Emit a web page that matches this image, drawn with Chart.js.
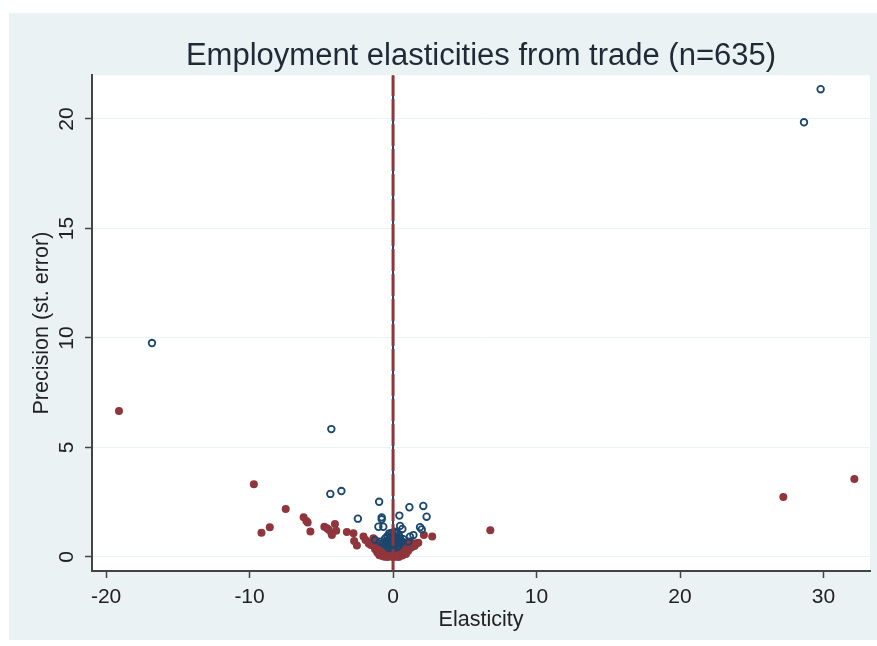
<!DOCTYPE html>
<html lang="en">
<head>
<meta charset="UTF-8">
<title>Employment elasticities from trade</title>
<script src="https://cdn.jsdelivr.net/npm/chart.js"></script>
<style>
  html, body { margin: 0; padding: 0; background: #ffffff; }
  #wrap { width: 877px; height: 646px; }
</style>
</head>
<body>
<div id="wrap"><canvas id="funnelChart" width="877" height="646"></canvas></div>
<script>
// axis ticks and limits
const xTicks = [-20, -10, 0, 10, 20, 30];
const yTicks = [0, 5, 10, 15, 20];
const xLimits = [-20.98, 33.24];
const yLimits = [-0.64, 22.0];

// filled maroon markers (elasticity, precision)
const redX = [-19.1, -9.7, -9.17, -8.59, -7.48, -6.23, -6.04, -5.95, -5.76, -4.79, -4.6, -4.48, -4.3, -4.05, -3.96, -4.26,
  -3.22, -2.76, -2.71, -2.52, -2.06, -1.92, -1.37, -1.23, 2.15, 2.73, 1.53, 1.76, 6.78, 27.2, 32.15,
  -1.45, -1.30, -1.10, -0.90, -0.70, 0.70, 0.95, 1.20, 1.40,
  -1.35, -1.15, -0.95, -0.75, -0.55, 0.55, 0.80, 1.05, 1.25,
  -1.25, -1.05, -0.85, -0.65, -0.45, -0.25, 0.25, 0.45, 0.65, 0.85, 1.05,
  -1.10, -0.90, -0.70, -0.50, -0.30, -0.10, 0.10, 0.30, 0.50, 0.70, 0.90,
  -0.95, -0.75, -0.55, -0.35, -0.15, 0.05, 0.25, 0.45, 0.65,
  -0.60, -0.40, -0.20, 0.00, 0.20, 0.40,
  -0.40, -0.20, 0.20, 0.35, -1.55, 1.50, -1.70, 1.65];
const redY = [6.67, 3.32, 1.11, 1.36, 2.19, 1.81, 1.64, 1.58, 1.16, 1.38, 1.31, 1.24, 1.10, 1.51, 1.20, 1.00,
  1.14, 1.08, 0.73, 0.52, 0.93, 0.78, 0.85, 0.62, 1.00, 0.93, 0.62, 0.65, 1.22, 2.74, 3.56,
  0.70, 0.62, 0.66, 0.60, 0.64, 0.66, 0.62, 0.70, 0.58,
  0.50, 0.45, 0.50, 0.42, 0.48, 0.45, 0.50, 0.46, 0.42,
  0.35, 0.30, 0.33, 0.28, 0.35, 0.30, 0.32, 0.28, 0.34, 0.30, 0.27,
  0.20, 0.16, 0.20, 0.14, 0.18, 0.22, 0.16, 0.20, 0.15, 0.19, 0.14,
  0.08, 0.05, 0.09, 0.04, 0.07, 0.03, 0.08, 0.05, 0.07,
  0.01, 0.00, 0.02, 0.00, 0.01, 0.00,
  0.55, 0.45, 0.50, 0.58, 0.55, 0.50, 0.62, 0.62];

// hollow navy markers (elasticity, precision)
const blueX = [-16.8, -4.3, -4.37, -3.6, -0.97, -2.45, -0.79, -0.79, 0.44, 1.14, 2.11, 2.34, -1.02, -0.68, 0.49, 0.65,
  1.88, 2.0, 1.42, 1.18, 0.42, -0.26, -1.25, -0.91, -0.68, 1.07, 0.72, 0.26, 28.64, 29.8,
  -0.5, -0.35, -0.2, 0.0, 0.2, 0.4, 0.55,
  -0.45, -0.25, -0.05, 0.15, 0.35, 0.5,
  -0.4, -0.2, 0.0, 0.2, 0.4,
  -0.1, 0.1, -0.3, 0.3, 0.0, -0.15, 0.25, -0.55, 0.6, 0.0, -0.3, 0.3];
const blueY = [9.77, 5.84, 2.88, 3.01, 2.52, 1.75, 1.81, 1.72, 1.89, 2.27, 2.33, 1.84, 1.38, 1.38, 1.42, 1.28,
  1.36, 1.26, 1.0, 0.93, 0.97, 1.08, 0.78, 0.70, 0.63, 0.70, 0.81, 1.11, 19.85, 21.36,
  0.55, 0.62, 0.50, 0.55, 0.60, 0.52, 0.65,
  0.75, 0.80, 0.72, 0.78, 0.74, 0.82,
  0.95, 0.90, 0.98, 0.92, 0.96,
  1.10, 1.15, 0.68, 0.66, 0.85, 1.02, 1.05, 0.85, 0.72, 0.40, 0.42, 0.45];

const sans = "'Liberation Sans', Arial, sans-serif";
const tickFontSize = 21;

const toPoints = (xs, ys) => xs.map((x, i) => ({ x: x, y: ys[i] }));

// stata-like frame: outer panel + white plot region
const panelBackground = {
  id: 'panelBackground',
  beforeDraw(chart) {
    const ctx = chart.ctx;
    const a = chart.chartArea;
    ctx.save();
    ctx.fillStyle = '#eaf2f3';
    ctx.fillRect(9, 13, 868, 627);
    ctx.fillStyle = '#ffffff';
    ctx.fillRect(a.left, a.top, a.right - a.left, a.bottom - a.top);
    ctx.restore();
  }
};

// y tick labels are written sideways, like the original
const sidewaysYLabels = {
  id: 'sidewaysYLabels',
  afterDraw(chart) {
    const ctx = chart.ctx;
    const y = chart.scales.y;
    ctx.save();
    ctx.font = tickFontSize + 'px ' + sans;
    ctx.fillStyle = '#222222';
    ctx.textAlign = 'center';
    ctx.textBaseline = 'middle';
    y.ticks.forEach(t => {
      ctx.save();
      ctx.translate(y.right - 25, y.getPixelForValue(t.value));
      ctx.rotate(-Math.PI / 2);
      ctx.fillText(String(t.value), 0, 0);
      ctx.restore();
    });
    ctx.restore();
  }
};

new Chart(document.getElementById('funnelChart'), {
  type: 'scatter',
  data: {
    datasets: [
      {
        label: 'zero (dash)',
        data: [{ x: 0, y: yLimits[0] }, { x: 0, y: yLimits[1] }],
        showLine: true,
        borderColor: '#90353b',
        borderWidth: 3,
        borderDash: [22, 3],
        pointRadius: 0
      },
      {
        label: 'zero',
        data: [{ x: 0, y: yLimits[0] }, { x: 0, y: yLimits[1] }],
        showLine: true,
        borderColor: '#1a476f',
        borderWidth: 2,
        pointRadius: 0
      },
      {
        label: 'hollow',
        data: toPoints(blueX, blueY),
        pointRadius: 3.3,
        pointBorderWidth: 1.8,
        borderColor: '#1a476f',
        backgroundColor: 'rgba(255,255,255,0)'
      },
      {
        label: 'filled',
        data: toPoints(redX, redY),
        pointRadius: 4,
        pointBorderWidth: 0,
        borderColor: '#90353b',
        backgroundColor: '#90353b'
      }
    ]
  },
  options: {
    responsive: false,
    animation: false,
    layout: { padding: { left: 0, right: 7, top: 0, bottom: 0 } },
    plugins: {
      legend: { display: false },
      tooltip: { enabled: false },
      title: {
        display: true,
        fullSize: false,
        text: 'Employment elasticities from trade (n=635)',
        color: '#1e2a36',
        font: { family: sans, size: 31, weight: 'normal' },
        padding: { top: 38, bottom: 0 }
      }
    },
    scales: {
      x: {
        type: 'linear',
        min: xLimits[0],
        max: xLimits[1],
        afterBuildTicks: s => { s.ticks = xTicks.map(v => ({ value: v })); },
        afterFit: s => { s.height = 75; },
        border: { display: true, color: '#444444', width: 2 },
        grid: { display: true, color: 'rgba(0,0,0,0)', drawTicks: true, tickColor: '#444444', tickLength: 7, tickWidth: 1.5 },
        ticks: { color: '#222222', font: { family: sans, size: tickFontSize }, padding: 7, maxRotation: 0 },
        title: { display: true, text: 'Elasticity', color: '#222222', font: { family: sans, size: 21.5 }, padding: { top: 0, bottom: 13 } }
      },
      y: {
        type: 'linear',
        min: yLimits[0],
        max: yLimits[1],
        afterBuildTicks: s => { s.ticks = yTicks.map(v => ({ value: v })); },
        afterFit: s => { s.width = 92; },
        border: { display: true, color: '#444444', width: 2 },
        grid: { display: true, color: '#eaf2f3', lineWidth: 1, drawTicks: true, tickColor: '#444444', tickLength: 7, tickWidth: 1.5 },
        ticks: { color: 'rgba(0,0,0,0)', font: { family: sans, size: tickFontSize } },
        title: { display: true, text: 'Precision (st. error)', color: '#222222', font: { family: sans, size: 21.5 }, padding: { top: 29, bottom: 0 } }
      }
    }
  },
  plugins: [panelBackground, sidewaysYLabels]
});
</script>
</body>
</html>
